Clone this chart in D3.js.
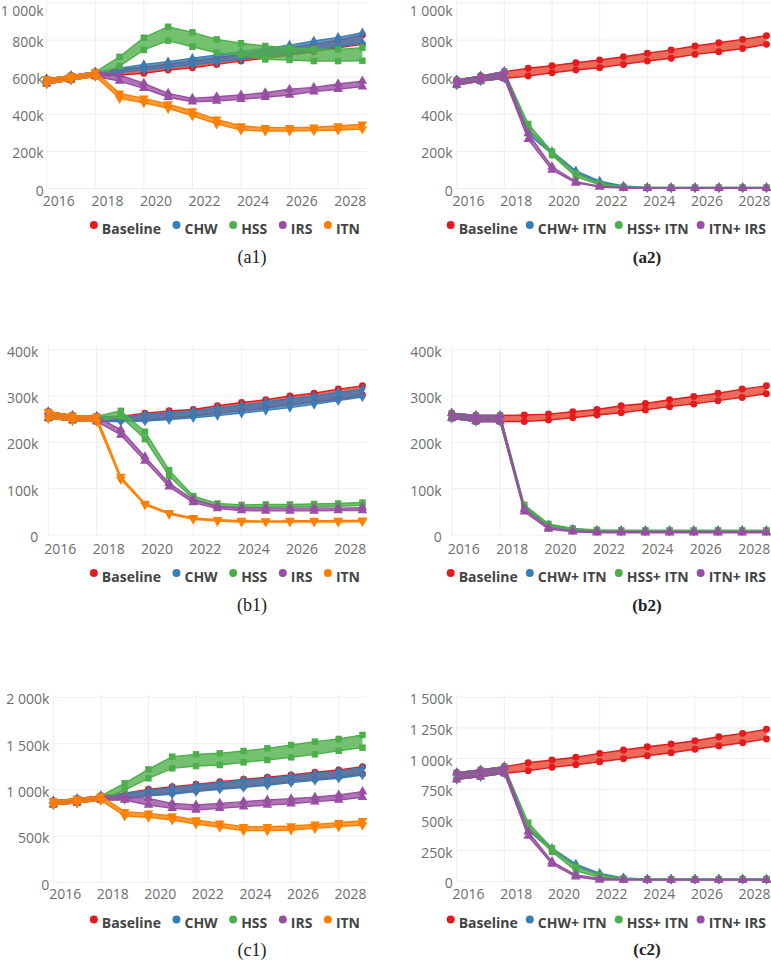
<!DOCTYPE html>
<html><head><meta charset="utf-8">
<script src="https://cdn.jsdelivr.net/npm/d3@7"></script>
<style>body{margin:0;background:#fff}</style>
</head><body>
<svg id="chart" width="771" height="960"></svg>
<script>
// ---------- data (values in thousands) ----------
const years = [2015.5, 2016.5, 2017.5, 2018.5, 2019.5, 2020.5, 2021.5, 2022.5, 2023.5, 2024.5, 2025.5, 2026.5, 2027.5, 2028.5];
const tickYears = [2016, 2018, 2020, 2022, 2024, 2026, 2028];
const singleNames = ["Baseline", "CHW", "HSS", "IRS", "ITN"];
const comboNames = ["Baseline", "CHW+ ITN", "HSS+ ITN", "ITN+ IRS"];
const yTicksA = [0, 200, 400, 600, 800, 1000];
const yTicksB = [0, 100, 200, 300, 400];
const yTicksC1 = [0, 500, 1000, 1500, 2000];
const yTicksC2 = [0, 250, 500, 750, 1000, 1250, 1500];

// (a1)
const a1BaselineHi = [590, 608, 628, 640, 655, 670, 688, 705, 722, 740, 758, 778, 800, 827];
const a1BaselineLo = [565, 585, 605, 612, 621, 639, 651, 669, 687, 702, 720, 737, 759, 777];
const a1ChwHi = [590, 608, 628, 648, 669, 683, 702, 720, 737, 755, 773, 795, 815, 840];
const a1ChwLo = [565, 585, 605, 625, 638, 652, 667, 682, 698, 712, 727, 743, 764, 786];
const a1HssHi = [590, 608, 628, 710, 813, 872, 842, 804, 783, 768, 759, 752, 750, 759];
const a1HssLo = [565, 585, 605, 660, 747, 797, 764, 732, 720, 696, 693, 687, 687, 689];
const a1IrsHi = [590, 608, 628, 612, 567, 513, 486, 495, 504, 516, 535, 545, 563, 579];
const a1IrsLo = [565, 585, 605, 579, 540, 492, 468, 472, 481, 492, 504, 522, 535, 549];
const a1ItnHi = [590, 608, 628, 513, 486, 455, 418, 373, 337, 328, 328, 330, 337, 346];
const a1ItnLo = [565, 585, 605, 486, 462, 432, 392, 348, 315, 310, 310, 312, 315, 321];

// (a2)
const a2BaselineHi = [585, 606, 630, 648, 662, 678, 693, 710, 729, 747, 768, 786, 804, 824];
const a2BaselineLo = [558, 579, 594, 606, 624, 639, 651, 669, 687, 702, 723, 737, 755, 777];
const a2ChwItnHi = [585, 606, 630, 320, 200, 95, 40, 14, 6, 5, 5, 5, 5, 5];
const a2ChwItnLo = [558, 579, 594, 295, 185, 85, 32, 10, 4, 3, 3, 3, 3, 3];
const a2HssItnHi = [585, 606, 630, 348, 198, 82, 28, 9, 6, 5, 5, 5, 5, 5];
const a2HssItnLo = [558, 579, 594, 324, 180, 64, 20, 6, 4, 3, 3, 3, 3, 3];
const a2ItnIrsHi = [585, 606, 630, 297, 117, 37, 12, 4, 3, 3, 3, 3, 3, 3];
const a2ItnIrsLo = [558, 579, 594, 265, 100, 30, 8, 2, 2, 2, 2, 2, 2, 2];

// (b1)
const b1BaselineHi = [266, 258, 256, 256, 263, 268, 271, 279, 286, 292, 300, 306, 315, 322];
const b1BaselineLo = [252, 247, 245, 247, 248, 252, 257, 263, 268, 274, 281, 287, 293, 302];
const b1ChwHi = [266, 258, 256, 254, 260, 264, 268, 274, 280, 287, 294, 300, 308, 315];
const b1ChwLo = [252, 247, 245, 245, 246, 249, 253, 258, 263, 269, 275, 282, 290, 298];
const b1HssHi = [266, 258, 256, 268, 223, 140, 84, 68, 65, 66, 66, 67, 68, 70];
const b1HssLo = [252, 247, 245, 256, 207, 127, 78, 62, 60, 60, 61, 61, 62, 64];
const b1IrsHi = [266, 258, 256, 227, 169, 112, 76, 62, 58, 58, 58, 58, 58, 59];
const b1IrsLo = [252, 247, 245, 216, 160, 104, 70, 57, 53, 52, 52, 52, 53, 53];
const b1ItnHi = [266, 258, 256, 126, 68, 48, 37, 33, 31, 30, 31, 31, 31, 32];
const b1ItnLo = [252, 247, 245, 120, 65, 45, 34, 30, 28, 28, 28, 28, 28, 29];

// (b2)
const b2BaselineHi = [263, 258, 258, 259, 261, 266, 271, 279, 284, 292, 299, 306, 315, 322];
const b2BaselineLo = [252, 245, 245, 245, 248, 253, 259, 264, 270, 277, 283, 290, 297, 305];
const b2ChwItnHi = [263, 258, 258, 62, 22, 13, 10, 10, 10, 10, 10, 10, 10, 10];
const b2ChwItnLo = [252, 245, 245, 56, 18, 11, 8, 8, 8, 8, 8, 8, 8, 8];
const b2HssItnHi = [263, 258, 258, 65, 24, 14, 11, 10, 10, 10, 10, 10, 10, 10];
const b2HssItnLo = [252, 245, 245, 58, 19, 11, 9, 8, 8, 8, 8, 8, 8, 8];
const b2ItnIrsHi = [263, 258, 258, 56, 16, 9, 7, 7, 7, 7, 7, 7, 7, 7];
const b2ItnIrsLo = [252, 245, 245, 50, 13, 7, 5, 5, 5, 5, 5, 5, 5, 5];

// (c1)
const c1BaselineHi = [880, 905, 935, 965, 1006, 1035, 1060, 1089, 1114, 1136, 1161, 1190, 1215, 1251];
const c1BaselineLo = [840, 860, 890, 905, 945, 963, 991, 1017, 1035, 1060, 1089, 1114, 1136, 1172];
const c1ChwHi = [880, 905, 935, 958, 995, 1025, 1050, 1078, 1104, 1126, 1150, 1178, 1203, 1238];
const c1ChwLo = [840, 860, 890, 898, 935, 953, 981, 1007, 1025, 1050, 1078, 1103, 1126, 1160];
const c1HssHi = [880, 905, 935, 1071, 1222, 1359, 1384, 1395, 1420, 1449, 1485, 1521, 1550, 1593];
const c1HssLo = [840, 860, 890, 999, 1125, 1233, 1258, 1269, 1298, 1323, 1352, 1384, 1423, 1456];
const c1IrsHi = [880, 905, 935, 927, 909, 855, 837, 855, 873, 891, 905, 920, 945, 981];
const c1IrsLo = [840, 860, 890, 891, 837, 801, 783, 801, 819, 837, 850, 873, 891, 920];
const c1ItnHi = [880, 905, 935, 765, 747, 718, 675, 639, 603, 603, 610, 628, 646, 667];
const c1ItnLo = [840, 860, 890, 718, 704, 675, 632, 596, 560, 560, 567, 585, 603, 621];

// (c2)
const c2BaselineHi = [885, 907, 934, 967, 989, 1011, 1043, 1070, 1097, 1119, 1146, 1178, 1206, 1239];
const c2BaselineLo = [831, 853, 880, 901, 929, 950, 975, 999, 1024, 1048, 1076, 1103, 1130, 1160];
const c2ChwItnHi = [885, 907, 934, 440, 270, 140, 65, 28, 18, 18, 18, 18, 18, 18];
const c2ChwItnLo = [831, 853, 880, 415, 250, 125, 55, 22, 15, 15, 15, 15, 15, 15];
const c2HssItnHi = [885, 907, 934, 478, 269, 119, 51, 24, 18, 18, 18, 18, 18, 18];
const c2HssItnLo = [831, 853, 880, 432, 241, 86, 33, 16, 14, 14, 14, 14, 14, 14];
const c2ItnIrsHi = [885, 907, 934, 404, 160, 51, 24, 16, 15, 15, 15, 15, 15, 15];
const c2ItnIrsLo = [831, 853, 880, 369, 141, 37, 11, 10, 10, 10, 10, 10, 10, 10];

// ---------- styles ----------
const colorOf = {
  "Baseline": "#e41a1c", "CHW": "#377eb8", "HSS": "#4daf4a", "IRS": "#984ea3", "ITN": "#ff7f00",
  "CHW+ ITN": "#377eb8", "HSS+ ITN": "#4daf4a", "ITN+ IRS": "#984ea3"
};
const fillOf = {
  "Baseline": "#e6402c", "CHW": "#377eb8", "HSS": "#4daf4a", "IRS": "#984ea3", "ITN": "#ff7f00",
  "CHW+ ITN": "#377eb8", "HSS+ ITN": "#4daf4a", "ITN+ IRS": "#984ea3"
};
const triDown = { draw(ctx, size) { const s = Math.sqrt(size / (Math.sqrt(3) / 4)); const h = s * Math.sqrt(3) / 2;
  ctx.moveTo(0, h * 2 / 3); ctx.lineTo(s / 2, -h / 3); ctx.lineTo(-s / 2, -h / 3); ctx.closePath(); } };
const symbolOf = {
  "Baseline": [d3.symbolCircle, 38], "CHW": [d3.symbolDiamond, 32], "HSS": [d3.symbolSquare, 42],
  "IRS": [d3.symbolTriangle, 40], "ITN": [triDown, 40],
  "CHW+ ITN": [d3.symbolDiamond, 32], "HSS+ ITN": [d3.symbolSquare, 42], "ITN+ IRS": [d3.symbolTriangle, 40]
};

// ---------- layout ----------
const panels = [
  { caption: "(a1)", names: singleNames,
    series: [[a1BaselineHi, a1BaselineLo], [a1ChwHi, a1ChwLo], [a1HssHi, a1HssLo], [a1IrsHi, a1IrsLo], [a1ItnHi, a1ItnLo]],
    yTicks: yTicksA, left: 46.7, right: 367, top: 0, zeroY: 188.5, maxY: 3, labelGap: 3,
    xLabelY: 200, legendY: 228, legendRight: 360, legendGap: 15.5, captionX: 252, captionY: 257, bold: false },
  { caption: "(a2)", names: comboNames,
    series: [[a2BaselineHi, a2BaselineLo], [a2ChwItnHi, a2ChwItnLo], [a2HssItnHi, a2HssItnLo], [a2ItnIrsHi, a2ItnIrsLo]],
    yTicks: yTicksA, left: 456.7, right: 771, top: 0, zeroY: 188.5, maxY: 3, labelGap: 4,
    xLabelY: 200, legendY: 228, legendRight: 766, legendGap: 12, captionX: 647, captionY: 257, bold: true },
  { caption: "(b1)", names: singleNames,
    series: [[b1BaselineHi, b1BaselineLo], [b1ChwHi, b1ChwLo], [b1HssHi, b1HssLo], [b1IrsHi, b1IrsLo], [b1ItnHi, b1ItnLo]],
    yTicks: yTicksB, left: 48.3, right: 367, top: 346, zeroY: 535, maxY: 349.7, labelGap: 10,
    xLabelY: 548, legendY: 576, legendRight: 360, legendGap: 15.5, captionX: 252, captionY: 605, bold: false },
  { caption: "(b2)", names: comboNames,
    series: [[b2BaselineHi, b2BaselineLo], [b2ChwItnHi, b2ChwItnLo], [b2HssItnHi, b2HssItnLo], [b2ItnIrsHi, b2ItnIrsLo]],
    yTicks: yTicksB, left: 451.7, right: 771, top: 346, zeroY: 535, maxY: 349.7, labelGap: 10,
    xLabelY: 548, legendY: 576, legendRight: 766, legendGap: 12, captionX: 647, captionY: 605, bold: true },
  { caption: "(c1)", names: singleNames,
    series: [[c1BaselineHi, c1BaselineLo], [c1ChwHi, c1ChwLo], [c1HssHi, c1HssLo], [c1IrsHi, c1IrsLo], [c1ItnHi, c1ItnLo]],
    yTicks: yTicksC1, left: 53.3, right: 367, top: 694, zeroY: 882.5, maxY: 697.3, labelGap: 4,
    xLabelY: 893.5, legendY: 922.5, legendRight: 360, legendGap: 15.5, captionX: 252, captionY: 949.5, bold: false },
  { caption: "(c2)", names: comboNames,
    series: [[c2BaselineHi, c2BaselineLo], [c2ChwItnHi, c2ChwItnLo], [c2HssItnHi, c2HssItnLo], [c2ItnIrsHi, c2ItnIrsLo]],
    yTicks: yTicksC2, left: 456.7, right: 771, top: 694, zeroY: 881.3, maxY: 697.3, labelGap: 4,
    xLabelY: 893.5, legendY: 922.5, legendRight: 766, legendGap: 12, captionX: 647, captionY: 949.5, bold: true }
];

const svg = d3.select("#chart");
const fmtGroup = d3.formatLocale({ decimal: ".", thousands: " ", grouping: [3], currency: ["", ""] }).format(",");
const fmtY = v => v === 0 ? "0" : fmtGroup(v) + "k";
const gridColor = "#eeeeee";
const tickFont = "'Open Sans', sans-serif";

panels.forEach(p => {
  const g = svg.append("g");
  const yMaxVal = p.yTicks[p.yTicks.length - 1];
  const x = d3.scaleLinear().domain([years[0], years[years.length - 1] + 0.19]).range([p.left, p.right]);
  const y = d3.scaleLinear().domain([0, yMaxVal]).range([p.zeroY, p.maxY]);

  // vertical gridlines at every other data point
  const vGrid = years.filter((d, i) => i % 2 === 0);
  g.append("g").selectAll("line").data(vGrid).join("line")
    .attr("x1", d => x(d)).attr("x2", d => x(d))
    .attr("y1", p.top).attr("y2", y(0))
    .attr("stroke", gridColor).attr("stroke-width", 1);
  // horizontal gridlines
  g.append("g").selectAll("line").data(p.yTicks).join("line")
    .attr("x1", p.left).attr("x2", p.right)
    .attr("y1", d => y(d)).attr("y2", d => y(d))
    .attr("stroke", gridColor).attr("stroke-width", 1);

  // y tick labels
  g.append("g").selectAll("text").data(p.yTicks).join("text")
    .attr("x", p.left - p.labelGap).attr("y", d => Math.max(y(d) + 1.5, 10))
    .attr("text-anchor", "end").attr("dominant-baseline", "central")
    .attr("font-family", tickFont).attr("font-size", 14).attr("fill", "#6e6e6e")
    .text(fmtY);
  // x tick labels
  g.append("g").selectAll("text").data(tickYears).join("text")
    .attr("x", d => x(d)).attr("y", p.xLabelY)
    .attr("text-anchor", "middle").attr("dominant-baseline", "central")
    .attr("font-family", tickFont).attr("font-size", 14).attr("fill", "#6e6e6e")
    .text(d => d);

  // bands
  p.series.forEach(([hi, lo], si) => {
    const name = p.names[si];
    const col = colorOf[name];
    const pts = years.map((yr, i) => ({ yr, hi: hi[i], lo: lo[i] }));
    const sg = g.append("g");
    sg.append("path").datum(pts)
      .attr("d", d3.area().x(d => x(d.yr)).y0(d => y(d.lo)).y1(d => y(d.hi)))
      .attr("fill", fillOf[name]).attr("fill-opacity", 0.78);
    [d => d.hi, d => d.lo].forEach(acc => {
      sg.append("path").datum(pts)
        .attr("d", d3.line().x(d => x(d.yr)).y(d => y(acc(d))))
        .attr("fill", "none").attr("stroke", col).attr("stroke-width", 1.4);
      const [sym, size] = symbolOf[name];
      sg.append("g").selectAll("path").data(pts).join("path")
        .attr("transform", d => `translate(${x(d.yr)},${y(acc(d))})`)
        .attr("d", d3.symbol().type(sym).size(size))
        .attr("fill", col);
    });
  });

  // legend (right-aligned)
  const lg = g.append("g");
  const items = lg.selectAll("g").data(p.names).join("g");
  items.append("circle").attr("r", 4).attr("cy", -3).attr("fill", d => colorOf[d]);
  items.append("text").attr("x", 8).attr("y", 0).attr("dominant-baseline", "central")
    .attr("font-family", tickFont).attr("font-size", 14).attr("font-weight", "bold").attr("fill", "#444")
    .text(d => d);
  const widths = [];
  items.each(function () { widths.push(d3.select(this).select("text").node().getComputedTextLength()); });
  const total = widths.reduce((s, w) => s + 8 + w, 0) + p.legendGap * (widths.length - 1);
  let cx = p.legendRight - total;
  items.attr("transform", (d, i) => { const t = `translate(${cx},${p.legendY})`; cx += 8 + widths[i] + p.legendGap; return t; });

  // caption
  g.append("text").attr("x", p.captionX).attr("y", p.captionY)
    .attr("text-anchor", "middle").attr("dominant-baseline", "central")
    .attr("font-family", "'Liberation Serif', serif").attr("font-size", p.bold ? 17 : 18)
    .attr("font-weight", p.bold ? "bold" : "normal").attr("fill", "#222")
    .text(p.caption);
});
</script>
</body></html>
